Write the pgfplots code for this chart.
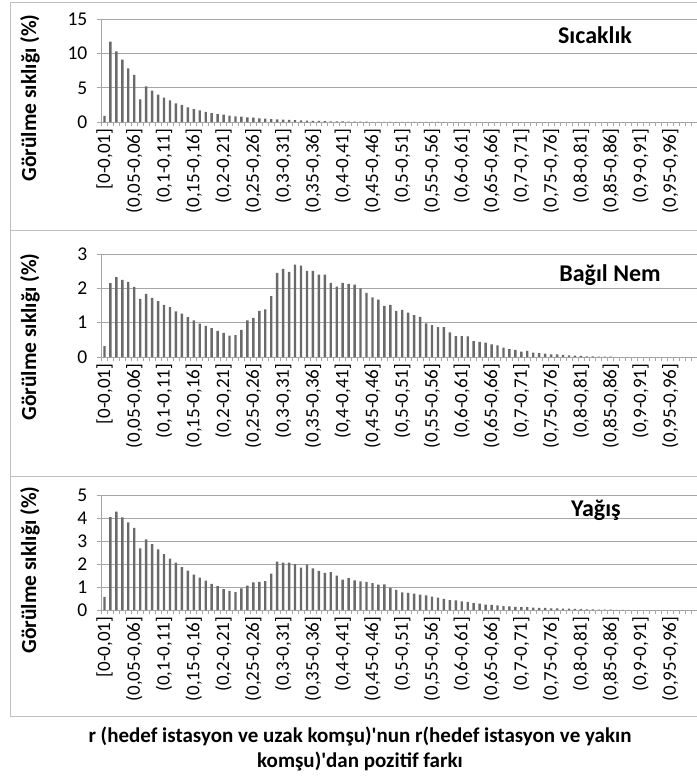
\documentclass[border=0pt]{standalone}
\usepackage{pgfplots}
\pgfplotsset{compat=1.18}
\usepackage{pgfplotstable}
\usepackage{fontspec}
\setmainfont{Carlito}

\pgfplotstableread{
idx s n y
0 0.90 0.32 0.57
1 11.76 2.15 4.04
2 10.34 2.33 4.28
3 9.12 2.25 4.03
4 7.85 2.19 3.81
5 6.88 2.04 3.57
6 3.30 1.69 2.68
7 5.20 1.84 3.07
8 4.60 1.72 2.86
9 4.00 1.63 2.64
10 3.56 1.52 2.43
11 3.17 1.45 2.23
12 2.73 1.33 2.06
13 2.50 1.26 1.87
14 2.15 1.16 1.71
15 1.90 1.07 1.54
16 1.70 0.97 1.41
17 1.50 0.91 1.28
18 1.30 0.84 1.14
19 1.17 0.76 1.04
20 1.07 0.70 0.91
21 0.93 0.62 0.83
22 0.83 0.64 0.78
23 0.78 0.79 0.94
24 0.68 1.07 1.06
25 0.63 1.14 1.20
26 0.54 1.34 1.22
27 0.49 1.39 1.26
28 0.42 1.77 1.58
29 0.39 2.45 2.10
30 0.34 2.57 2.06
31 0.30 2.48 2.06
32 0.27 2.69 2.00
33 0.24 2.66 1.84
34 0.20 2.51 1.97
35 0.17 2.51 1.81
36 0.15 2.40 1.70
37 0.13 2.40 1.62
38 0.11 2.16 1.65
39 0.09 2.05 1.49
40 0.08 2.16 1.32
41 0.07 2.13 1.39
42 0.06 2.11 1.29
43 0.05 2.00 1.25
44 0.04 1.87 1.22
45 0.03 1.74 1.17
46 0.03 1.67 1.10
47 0.02 1.49 1.12
48 0.02 1.52 0.96
49 0.02 1.34 0.87
50 0.01 1.37 0.77
51 0.01 1.29 0.74
52 0.01 1.22 0.71
53 0.01 1.17 0.67
54 0.01 0.98 0.64
55 0.01 0.93 0.58
56 0.01 0.87 0.54
57 0.01 0.87 0.48
58 0 0.72 0.43
59 0 0.61 0.42
60 0 0.61 0.38
61 0 0.60 0.35
62 0 0.46 0.30
63 0 0.44 0.28
64 0 0.42 0.23
65 0 0.37 0.22
66 0 0.34 0.20
67 0 0.27 0.17
68 0 0.23 0.16
69 0 0.21 0.14
70 0 0.16 0.13
71 0 0.18 0.12
72 0 0.13 0.10
73 0 0.11 0.09
74 0 0.10 0.09
75 0 0.08 0.07
76 0 0.08 0.07
77 0 0.06 0.06
78 0 0.05 0.06
79 0 0.04 0.05
80 0 0.03 0.04
81 0 0.02 0.03
82 0 0.02 0.03
83 0 0.01 0.02
84 0 0.01 0.02
85 0 0.01 0.02
86 0 0 0.01
87 0 0 0.01
88 0 0 0.01
89 0 0 0
90 0 0 0
91 0 0 0
92 0 0 0
93 0 0 0
94 0 0 0
95 0 0 0
96 0 0 0
97 0 0 0
98 0 0 0
99 0 0 0
}\datatable

\definecolor{barcol}{HTML}{6A6A6A}
\definecolor{gridcol}{HTML}{A6A6A6}
\definecolor{framecol}{HTML}{BFBFBF}

\pgfplotsset{panel/.style={
  scale only axis, width=595.5bp, xmin=-0.5, xmax=99.5, ymin=0,
  axis x line*=bottom, axis y line*=left,
  axis line style={draw=gridcol, line width=0.7bp},
  ymajorgrids, grid style={draw=gridcol, line width=0.7bp},
  xtick={0,5,...,95},
  xticklabels={{[0-0,01]},{(0,05-0,06]},{(0,1-0,11]},{(0,15-0,16]},{(0,2-0,21]},{(0,25-0,26]},{(0,3-0,31]},{(0,35-0,36]},{(0,4-0,41]},{(0,45-0,46]},{(0,5-0,51]},{(0,55-0,56]},{(0,6-0,61]},{(0,65-0,66]},{(0,7-0,71]},{(0,75-0,76]},{(0,8-0,81]},{(0,85-0,86]},{(0,9-0,91]},{(0,95-0,96]}},
  minor xtick={-0.5,0.5,...,99.5},
  major x tick style={draw=none},
  minor x tick style={draw=gridcol, line width=0.7bp},
  y tick style={draw=gridcol, line width=0.7bp},
  tick align=outside, major tick length=5bp, minor tick length=4bp,
  xticklabel style={rotate=90, anchor=east, font=\fontsize{19bp}{21bp}\selectfont, inner sep=1.5bp},
  yticklabel style={font=\fontsize{19.5bp}{21bp}\selectfont, anchor=east, inner sep=1bp, xshift=-8bp},
  /pgf/number format/assume math mode=true,
  ybar, bar width=2.4bp,
  anchor=south west, clip=false,
}}

\begin{document}
\begin{tikzpicture}
\useasboundingbox (0,0) rectangle (697bp,-778bp);
% panel frames
\draw[framecol, line width=0.8bp] (10bp,-2bp) rectangle (720bp,-230bp);
\draw[framecol, line width=0.8bp] (10bp,-230bp) rectangle (720bp,-476bp);
\draw[framecol, line width=0.8bp] (10bp,-476bp) rectangle (720bp,-716bp);

\begin{axis}[panel, at={(101.5bp,-122bp)}, height=102.5bp, ymax=15, ytick={0,5,10,15}]
\addplot[fill=barcol, draw=none] table[x=idx, y=s] {\datatable};
\end{axis}

\begin{axis}[panel, at={(101.5bp,-357bp)}, height=103bp, ymax=3, ytick={0,1,2,3}]
\addplot[fill=barcol, draw=none] table[x=idx, y=n] {\datatable};
\end{axis}

\begin{axis}[panel, at={(101.5bp,-610bp)}, height=115bp, ymax=5, ytick={0,1,2,3,4,5}]
\addplot[fill=barcol, draw=none] table[x=idx, y=y] {\datatable};
\end{axis}

% y labels
\foreach \yy in {98,337,570}{
  \node[rotate=90, font=\fontsize{21.5bp}{24bp}\selectfont\bfseries] at (30bp,-\yy bp) {Görülme sıklığı (\%)};
}
% panel titles
\node[font=\fontsize{24bp}{27bp}\selectfont\bfseries] at (595bp,-35bp) {Sıcaklık};
\node[font=\fontsize{24bp}{27bp}\selectfont\bfseries] at (610bp,-275bp) {Bağıl Nem};
\node[font=\fontsize{24bp}{27bp}\selectfont\bfseries] at (596bp,-510bp) {Yağış};
% x title
\node[align=center, font=\fontsize{21bp}{25bp}\selectfont\bfseries] at (360bp,-749bp)
  {r (hedef istasyon ve uzak komşu)\textquotesingle nun r(hedef istasyon ve yakın\\komşu)\textquotesingle dan pozitif farkı};
\end{tikzpicture}
\end{document}
